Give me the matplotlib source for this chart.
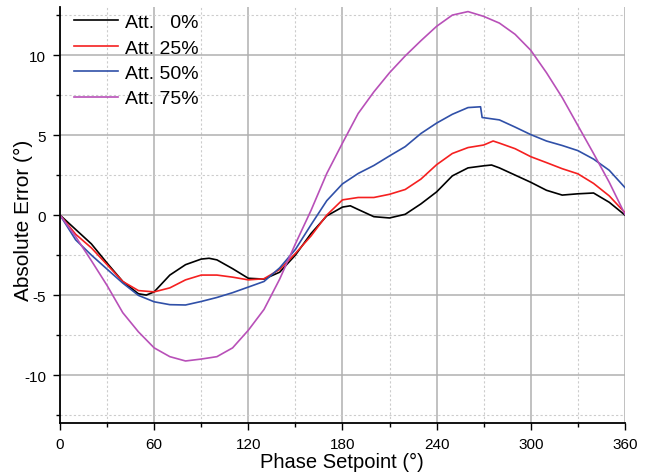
import matplotlib

matplotlib.use('Agg')
import numpy as np
import matplotlib.pyplot as plt
from matplotlib.ticker import MultipleLocator

plt.rcParams['font.family'] = ['Liberation Sans', 'DejaVu Sans']
plt.rcParams['axes.unicode_minus'] = False

# phase setpoint (deg) and absolute error (deg)
x_att0 = [0, 10, 20, 30, 40, 50, 55, 60, 70, 80, 90, 95, 100, 110, 120, 130, 140, 150,
          160, 170, 180, 185, 190, 200, 210, 220, 230, 240, 250, 260, 270, 275, 280,
          290, 300, 310, 320, 330, 340, 350, 360]
y_att0 = [0, -0.9, -1.8, -3.0, -4.15, -4.92, -5.0, -4.8, -3.75, -3.1, -2.75, -2.7, -2.8,
          -3.35, -3.95, -4.0, -3.57, -2.5, -1.15, -0.05, 0.5, 0.58, 0.35, -0.1, -0.18,
          0.05, 0.7, 1.45, 2.45, 2.95, 3.08, 3.13, 2.95, 2.5, 2.05, 1.55, 1.25, 1.33,
          1.38, 0.8, 0.0]

x_att25 = [0, 10, 20, 30, 40, 50, 60, 70, 80, 90, 100, 110, 120, 130, 140, 150, 160,
           170, 180, 190, 200, 210, 220, 230, 240, 250, 260, 270, 276, 280, 290, 300,
           310, 320, 330, 340, 350, 360]
y_att25 = [0, -1.2, -2.05, -3.1, -4.15, -4.72, -4.8, -4.55, -4.05, -3.75, -3.75, -3.88,
           -4.05, -3.98, -3.4, -2.4, -1.3, 0.0, 0.95, 1.1, 1.1, 1.3, 1.6, 2.25, 3.15,
           3.85, 4.22, 4.38, 4.63, 4.5, 4.15, 3.65, 3.28, 2.9, 2.58, 1.98, 1.2, 0.15]

x_att50 = [0, 10, 20, 30, 40, 50, 60, 70, 80, 90, 100, 110, 120, 130, 140, 150, 160,
           170, 180, 190, 200, 210, 220, 230, 240, 250, 260, 268, 269, 280, 290, 300,
           310, 320, 330, 340, 350, 360]
y_att50 = [0, -1.55, -2.5, -3.38, -4.25, -5.02, -5.42, -5.6, -5.62, -5.4, -5.15, -4.85,
           -4.5, -4.15, -3.3, -2.15, -0.6, 0.9, 1.95, 2.6, 3.1, 3.7, 4.28, 5.1, 5.75,
           6.3, 6.72, 6.77, 6.1, 5.95, 5.5, 5.03, 4.63, 4.35, 4.03, 3.5, 2.8, 1.72]

x_att75 = [0, 10, 20, 30, 40, 50, 60, 70, 80, 90, 100, 110, 120, 130, 140, 150, 160,
           170, 180, 190, 200, 210, 220, 230, 240, 250, 260, 270, 280, 290, 300, 310,
           320, 330, 340, 350, 360]
y_att75 = [0, -1.35, -2.85, -4.4, -6.1, -7.3, -8.3, -8.85, -9.12, -9.0, -8.85, -8.3,
           -7.2, -5.9, -4.0, -1.8, 0.3, 2.6, 4.5, 6.35, 7.7, 8.9, 9.95, 10.9, 11.8,
           12.5, 12.72, 12.42, 12.0, 11.3, 10.3, 8.9, 7.35, 5.6, 3.85, 2.05, 0.05]

labels = ['Att.   0%', 'Att. 25%', 'Att. 50%', 'Att. 75%']
colors = ['#000000', '#f52020', '#3050a8', '#b850b8']

fig = plt.figure(figsize=(6.52, 4.77), dpi=100)
ax = fig.add_axes([0.092, 0.111, 0.8665, 0.872])

series = [(x_att0, y_att0), (x_att25, y_att25), (x_att50, y_att50), (x_att75, y_att75)]
for (xs, ys), lab, col in zip(series, labels, colors):
    ax.plot(xs, ys, color=col, lw=1.2, label=lab)

ax.set_xlim(0, 360)
ax.set_ylim(-13, 13)
ax.xaxis.set_major_locator(MultipleLocator(60))
ax.xaxis.set_minor_locator(MultipleLocator(30))
ax.yaxis.set_major_locator(MultipleLocator(5))
ax.yaxis.set_minor_locator(MultipleLocator(2.5))

ax.grid(which='major', color='#b0b0b0', lw=1.1)
ax.grid(which='minor', color='#cccccc', lw=0.8, ls=(0, (2, 2)))
ax.set_axisbelow(True)

for s in ['top', 'right']:
    ax.spines[s].set_visible(False)
for s in ['left', 'bottom']:
    ax.spines[s].set_linewidth(1.3)

ax.tick_params(which='major', direction='out', length=5, width=1, labelsize=11, pad=5)
ax.tick_params(which='minor', direction='out', length=3, width=1)

ax.set_xlabel('Phase Setpoint (°)', fontsize=14.5)
ax.set_ylabel('Absolute Error (°)', fontsize=15)
ax.xaxis.set_label_coords(0.499, -0.07)
ax.yaxis.set_label_coords(-0.047, 0.49)

ax.legend(loc='upper left', frameon=False, fontsize=14, handlelength=2.27,
          handletextpad=0.36, labelspacing=0.4, borderaxespad=0.0,
          bbox_to_anchor=(0.011, 1.003))

fig.savefig('out.png', dpi=100)
